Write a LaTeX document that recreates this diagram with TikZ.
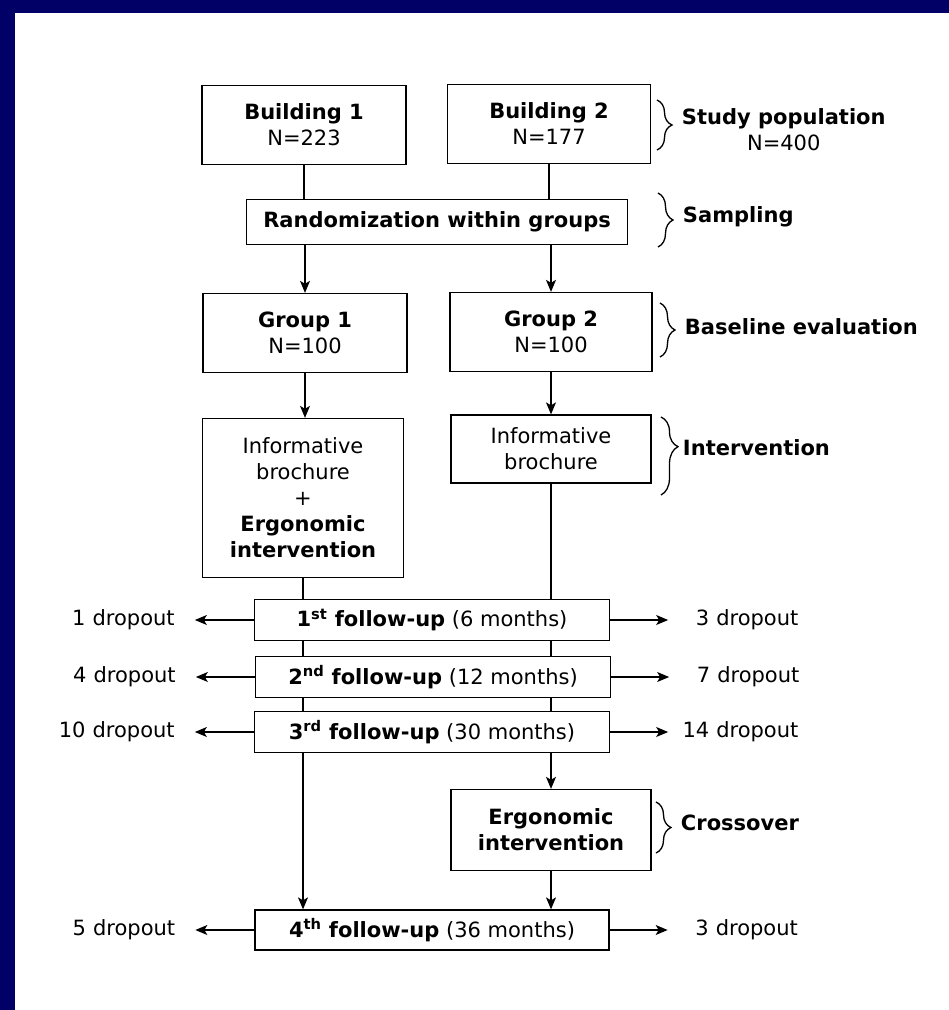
\documentclass[tikz,border=0pt]{standalone}
\usepackage{fontspec}
\setmainfont{DejaVu Sans}
\usepackage{tikz}
\usetikzlibrary{positioning,arrows.meta,decorations.pathreplacing}

\definecolor{slideblue}{RGB}{0,0,102}

\begin{document}
\begin{tikzpicture}[
		x=1pt, y=-1pt,
		>={Stealth[length=12pt,width=10pt,inset=3pt]},
		every node/.style={
			font=\fontsize{21}{26}\selectfont,
			align=center
		},
		box/.style={draw, line width=1.3pt, inner sep=0pt},
		flow/.style={line width=1.2pt},
		drop/.style={inner xsep=0pt, text width=120pt},
		stagebrace/.style={decorate, decoration={brace, amplitude=15pt}, line width=1.3pt},
		stage/.style={midway, right=21pt, align=left,
			font=\fontsize{21}{26}\selectfont\bfseries}
		]
		
		%--------------------------------------------------
		% Page
		%--------------------------------------------------
		
		\useasboundingbox (0,0) rectangle (949,1010);
		\fill[slideblue] (-5,-5) rectangle (960,1020);
		\fill[white] (15,13) rectangle (960,1020);
		
		%--------------------------------------------------
		% Boxes
		%--------------------------------------------------
		
		\node[box, minimum width=204pt, minimum height=79pt] (b1) at (304,125) {\textbf{Building 1}\\N=223};
		\node[box, minimum width=203pt, minimum height=79pt] (b2) at (549,124) {\textbf{Building 2}\\N=177};
		\node[box, minimum width=381pt, minimum height=45pt] (rand) at (437,222) {\textbf{Randomization within groups}};
		
		\node[box, minimum width=204pt, minimum height=79pt] (g1) at (305,333) {\textbf{Group 1}\\N=100};
		\node[box, minimum width=202pt, minimum height=79pt] (g2) at (551,332) {\textbf{Group 2}\\N=100};
		
		\node[box, minimum width=201pt, minimum height=159pt] (i1) at (303,498)
		{Informative\\brochure\\+\\\textbf{Ergonomic}\\\textbf{intervention}};
		\node[box, minimum width=200pt, minimum height=68pt] (i2) at (551,449) {Informative\\brochure};
		
		\node[box, minimum width=355pt, minimum height=41pt] (f1) at (432,620) {\textbf{1\textsuperscript{st} follow-up} (6 months)};
		\node[box, minimum width=355pt, minimum height=41pt] (f2) at (433,677) {\textbf{2\textsuperscript{nd} follow-up} (12 months)};
		\node[box, minimum width=355pt, minimum height=41pt] (f3) at (432,732) {\textbf{3\textsuperscript{rd} follow-up} (30 months)};
		
		\node[box, minimum width=200pt, minimum height=81pt] (ergo) at (551,830) {\textbf{Ergonomic}\\\textbf{intervention}};
		
		\node[box, minimum width=354pt, minimum height=40pt] (f4) at (432,930) {\textbf{4\textsuperscript{th} follow-up} (36 months)};
		
		%--------------------------------------------------
		% Flow
		%--------------------------------------------------
		
		\draw[flow] (b1.south) -- (b1.south |- rand.north);
		\draw[flow] (b2.south) -- (b2.south |- rand.north);
		\draw[flow,->] (rand.south -| g1.north) -- (g1.north);
		\draw[flow,->] (rand.south -| g2.north) -- (g2.north);
		\draw[flow,->] (g1.south) -- (g1.south |- i1.north);
		\draw[flow,->] (g2.south) -- (g2.south |- i2.north);
		\draw[flow] (i1.south) -- (i1.south |- f1.north);
		\draw[flow] (i2.south) -- (i2.south |- f1.north);
		
		\foreach \a/\b in {f1/f2,f2/f3}
		{
			\draw[flow] (\a.south -| i1.south) -- (\b.north -| i1.south);
			\draw[flow] (\a.south -| i2.south) -- (\b.north -| i2.south);
		}
		
		\draw[flow,->] (f3.south -| i1.south) -- (f4.north -| i1.south);
		\draw[flow,->] (f3.south -| ergo.north) -- (ergo.north);
		\draw[flow,->] (ergo.south) -- (ergo.south |- f4.north);
		
		%--------------------------------------------------
		% Dropouts
		%--------------------------------------------------
		
		\foreach \f/\nl/\nr in {f1/1/3,f2/4/7,f3/10/14,f4/5/3}
		{
			\node[drop, align=right, left=79pt of \f] (l\f) {\nl\ dropout};
			\node[drop, align=right, right=68pt of \f] (r\f) {\nr\ dropout};
			\draw[flow,->,shorten >=20pt] (\f.west) -- (l\f.east);
			\draw[flow,->,shorten >=10pt] (\f.east) -- (r\f.west);
		}
		
		%--------------------------------------------------
		% Stages
		%--------------------------------------------------
		
		\draw[stagebrace] (657,100) -- (657,150)
		node[stage, align=center, yshift=-5pt] (spop) {Study population\\\mdseries N=400};
		\draw[stagebrace] (658,193) -- (658,247)
		node[stage, yshift=3pt] (samp) {Sampling};
		\draw[stagebrace] (660,303) -- (660,357)
		node[stage, yshift=3pt] (base) {Baseline evaluation};
		\draw[stagebrace, decoration={brace, amplitude=17pt, aspect=0.38}] (661,417) -- (661,495)
		node[stage, right=18pt, yshift=8pt] (interv) {Intervention};
		\draw[stagebrace] (656,802) -- (656,853)
		node[stage, yshift=5pt] (cross) {Crossover};
		
	\end{tikzpicture}
\end{document}
